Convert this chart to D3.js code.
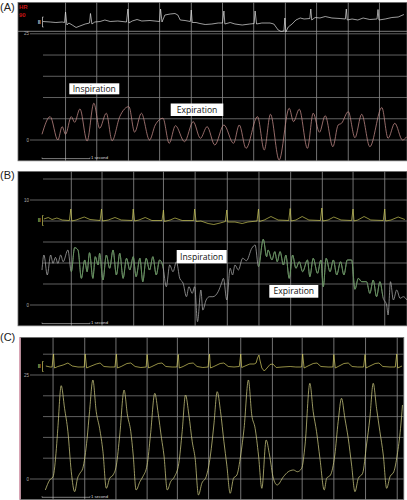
<!DOCTYPE html>
<html>
<head>
<meta charset="utf-8">
<script src="https://cdn.jsdelivr.net/npm/d3@7"></script>
<style>
  body { margin: 0; background: #fff; }
  svg { display: block; }
</style>
</head>
<body>
<svg id="fig" width="407" height="500"></svg>
<script>
// time in seconds, pressure in mmHg, ecg in mV
var panelNames = ['(A)', '(B)', '(C)'];
var phaseNames = ['Inspiration', 'Expiration'];
var heartRate = ['HR', '90'];
var leadName = 'II';
var scaleLabel = '1 second';

var levelsA = [0, 5, 10, 15, 20, 25];
var labelsA = [0, 25];
var levelsB = [0, 2, 4, 6, 8, 10, 12];
var labelsB = [0, 10];
var levelsC = [0, 5, 10, 15, 20, 25, 30];
var labelsC = [0, 25];

var gridTimesA = [0.48, 1.13, 1.79, 2.44, 3.1, 3.75, 4.4, 5.06, 5.71, 6.37, 7.02];
var gridTimesB = [0.6, 1.24, 1.9, 2.52, 3.18, 3.85, 4.51, 5.17, 5.83, 6.47, 7.13];
var gridTimesC = [0.22, 0.88, 1.53, 2.18, 2.81, 3.46, 4.13, 4.79, 5.41, 6.07, 6.73, 7.39];

var pressureA = [[0,1.34],[0.17,5.5],[0.33,0],[0.42,3.14],[0.49,1.34],[0.61,5.5],[0.68,4.17],[0.79,7.31],
  [0.94,-0.24],[1.08,8.66],[1.2,2.76],[1.34,6.3],[1.46,-0.17],[1.62,5.5],[1.81,7.85],[1.93,1.84],[2.07,6.3],
  [2.24,0],[2.36,3.54],[2.52,5.12],[2.65,-0.78],[2.78,3.37],[2.97,-0.4],[3.15,4.32],[3.3,0.4],[3.44,3.14],
  [3.6,-1.18],[3.79,3.54],[3.99,-0.78],[4.11,3.54],[4.25,-1.96],[4.49,5.5],[4.63,-2.36],[4.76,6.06],
  [4.94,-4.72],[5.15,7.48],[5.24,4.32],[5.36,7.24],[5.53,-1.96],[5.65,6.3],[5.78,1.82],[5.9,5.73],
  [6.06,-1.58],[6.17,3.54],[6.24,3.94],[6.38,6.67],[6.52,0.54],[6.66,6.06],[6.83,-1.58],[7.08,7.64],
  [7.21,0.4],[7.35,3.94],[7.51,0],[7.6,0.78]];

var ecgA = [[0.02,0.05],[0.17,0],[0.29,-0.05],[0.42,0],[0.47,-0.05],[0.49,1.0],[0.52,-0.3],[0.56,-0.1],
  [0.63,-0.3],[0.71,-0.55],[0.79,-0.4],[0.9,-0.2],[0.99,-0.1],[1.01,0.85],[1.04,-0.2],[1.1,0],[1.21,0.05],
  [1.31,0.2],[1.42,0.05],[1.58,0.1],[1.76,0],[1.79,1.3],[1.81,-0.1],[1.88,0.1],[1.98,0.25],[2.08,0.1],
  [2.25,0.15],[2.45,0.05],[2.47,1.3],[2.5,0],[2.56,0.7],[2.67,0.8],[2.77,0.85],[2.83,0.7],[2.88,0.2],
  [2.98,0.15],[3.09,0.05],[3.11,1.2],[3.13,-0.05],[3.21,-0.05],[3.29,-0.15],[3.4,-0.25],[3.54,-0.2],
  [3.67,-0.1],[3.76,-0.1],[3.79,1.1],[3.81,-0.2],[3.92,-0.05],[4.02,-0.2],[4.17,-0.3],[4.33,-0.2],
  [4.42,-0.15],[4.44,1.1],[4.47,-0.2],[4.58,-0.1],[4.75,-0.1],[4.83,-0.2],[4.92,-0.8],[4.98,-0.95],
  [5.04,-0.9],[5.06,0.4],[5.08,-1.0],[5.13,-0.5],[5.21,-0.2],[5.29,0.2],[5.38,0.4],[5.46,0.3],[5.58,0.35],
  [5.6,1.3],[5.62,0.2],[5.69,0.45],[5.79,0.4],[5.9,0.55],[6.04,0.4],[6.21,0.35],[6.32,0.3],[6.34,1.3],
  [6.36,0.2],[6.46,0.3],[6.58,0.2],[6.69,0.4],[6.83,0.25],[6.98,0.3],[7.0,1.25],[7.02,0.2],[7.15,0.3],
  [7.29,0.45],[7.42,0.5],[7.54,0.75]];

var pressureB = [[0,3.33],[0.04,4.76],[0.11,2.86],[0.18,4.76],[0.23,3.97],[0.28,4.54],[0.33,3.97],[0.39,4.76],
  [0.44,4.12],[0.54,5.24],[0.61,3.17],[0.68,5.46],[0.75,5.24],[0.82,2.54],[0.89,4.29],[0.94,3.17],[0.99,4.98],
  [1.06,2.54],[1.11,4.6],[1.17,3.81],[1.2,4.92],[1.27,2.38],[1.34,4.76],[1.41,3.5],[1.48,5.24],[1.55,2.86],
  [1.62,4.92],[1.69,2.54],[1.76,4.45],[1.83,3.33],[1.9,4.6],[1.96,2.7],[2.04,4.45],[2.1,2.22],[2.17,4.45],
  [2.24,3.33],[2.31,4.6],[2.38,2.86],[2.45,4.29],[2.52,3.65],[2.59,1.74],[2.66,3.81],[2.73,3.17],[2.8,4.12],
  [2.87,2.54],[2.94,2.07],[3.01,0.79],[3.06,1.74],[3.13,1.11],[3.18,1.74],[3.24,-1.59],[3.31,1.43],
  [3.35,-0.48],[3.42,0.48],[3.49,0.79],[3.56,0.79],[3.67,1.27],[3.74,2.07],[3.78,2.54],[3.85,0.48],
  [3.92,3.5],[3.97,2.86],[4.02,3.81],[4.09,3.33],[4.18,4.45],[4.26,4.22],[4.37,5.4],[4.44,5.71],[4.51,3.65],
  [4.61,6.26],[4.68,4.6],[4.71,5.24],[4.79,4.29],[4.85,5.08],[4.9,4.12],[4.96,5.08],[5.03,3.81],[5.08,4.76],
  [5.15,2.54],[5.22,4.76],[5.29,3.5],[5.36,4.12],[5.43,3.17],[5.53,4.29],[5.58,2.7],[5.65,4.45],[5.74,3.02],
  [5.81,4.29],[5.86,1.74],[5.92,4.45],[6.0,3.17],[6.07,4.29],[6.14,2.86],[6.22,4.12],[6.29,2.86],[6.36,4.29],
  [6.45,4.29],[6.52,1.5],[6.59,2.54],[6.66,2.22],[6.76,2.22],[6.83,1.11],[6.9,2.38],[6.97,0.79],[7.04,2.22],
  [7.11,0.64],[7.18,0],[7.21,-0.95],[7.26,2.22],[7.32,0.48],[7.39,1.43],[7.46,0.64],[7.53,0.79],[7.6,0.48]];

var greenSpansB = [[0.6, 2.52], [4.51, 7.1]];

var ecgB = [[0.04,0.15],[0.13,0.3],[0.21,0.1],[0.31,0.25],[0.42,0.05],[0.57,0],[0.6,1.15],[0.62,-0.05],
  [0.71,0.05],[0.88,0.35],[1.0,0.1],[1.21,0],[1.24,1.15],[1.26,-0.05],[1.38,0.05],[1.52,0.3],[1.65,0.05],
  [1.88,0],[1.9,1.15],[1.93,-0.05],[2.02,0.05],[2.15,0.3],[2.29,0],[2.5,0],[2.53,1.05],[2.55,-0.1],
  [2.67,0.05],[2.77,0.25],[2.92,0],[3.16,0],[3.18,1.15],[3.21,-0.1],[3.31,-0.05],[3.46,-0.3],[3.58,-0.4],
  [3.71,-0.25],[3.82,-0.1],[3.85,1.05],[3.87,-0.15],[4.02,-0.15],[4.17,-0.3],[4.29,-0.15],[4.48,-0.05],
  [4.51,1.15],[4.53,-0.1],[4.63,0.05],[4.77,0.4],[4.92,0.05],[5.14,0],[5.17,1.2],[5.19,-0.05],[5.29,0.05],
  [5.42,0.4],[5.56,0.05],[5.8,0],[5.83,1.25],[5.85,-0.05],[5.96,0.05],[6.08,0.35],[6.23,0.05],[6.45,0],
  [6.48,1.15],[6.5,-0.05],[6.58,0.05],[6.71,0.4],[6.85,0.05],[7.11,0],[7.14,1.15],[7.16,-0.05],[7.27,0.05],
  [7.42,0.35],[7.56,0.1]];

var pressureC = [[0.07,-2.64],[0.16,-0.24],[0.23,0.55],[0.3,7.38],[0.33,12.19],[0.4,22.43],[0.47,17.0],
  [0.54,11.37],[0.61,1.75],[0.68,-3.05],[0.74,0.17],[0.79,1.37],[0.85,2.57],[0.94,9.78],[0.99,16.18],
  [1.06,23.8],[1.13,16.18],[1.2,12.19],[1.27,6.56],[1.34,-2.24],[1.41,0.17],[1.48,0.96],[1.55,3.37],
  [1.62,10.58],[1.71,21.39],[1.78,15.38],[1.85,11.37],[1.9,5.77],[1.96,-2.64],[2.04,-0.65],[2.1,0.55],
  [2.19,3.37],[2.26,10.58],[2.35,20.6],[2.42,15.79],[2.49,9.78],[2.54,5.77],[2.61,-2.64],[2.68,-0.65],
  [2.76,0.55],[2.85,3.77],[2.92,11.37],[2.99,20.19],[3.06,15.38],[3.13,8.97],[3.19,4.98],[3.26,-3.85],
  [3.33,-1.03],[3.42,0.55],[3.51,5.77],[3.58,12.98],[3.65,20.99],[3.72,16.18],[3.79,8.97],[3.85,3.37],
  [3.92,-3.44],[3.99,0.17],[4.06,0.96],[4.14,5.77],[4.21,12.19],[4.3,23.8],[4.37,15.38],[4.44,12.19],
  [4.51,5.77],[4.58,-2.24],[4.67,9.38],[4.74,5.77],[4.82,0.17],[4.9,-1.44],[5.03,0.55],[5.13,1.75],
  [5.24,2.16],[5.32,1.75],[5.41,2.57],[5.48,8.17],[5.58,23.0],[5.65,16.18],[5.72,11.37],[5.79,4.98],
  [5.88,-2.64],[5.93,0.17],[6.01,0.96],[6.1,5.77],[6.17,13.77],[6.24,19.4],[6.31,14.59],[6.38,9.78],
  [6.45,3.37],[6.52,-3.05],[6.59,0.17],[6.68,1.37],[6.76,8.17],[6.83,14.59],[6.9,23.0],[6.97,17.0],
  [7.04,11.37],[7.11,5.77],[7.18,-2.24],[7.25,0.55],[7.33,1.75],[7.4,5.77],[7.47,12.19],[7.51,17.79]];

var ecgC = [[0.08,0.05],[0.17,-0.05],[0.21,-0.05],[0.24,1.25],[0.26,-0.15],[0.33,0],[0.44,0.15],[0.54,0.35],
  [0.63,0.05],[0.75,-0.05],[0.88,-0.05],[0.9,1.25],[0.93,-0.15],[1.0,0],[1.13,0.25],[1.21,0.35],[1.29,0],
  [1.42,-0.05],[1.52,-0.05],[1.55,1.25],[1.57,-0.15],[1.65,0],[1.77,0.3],[1.85,0.35],[1.94,0],[2.06,-0.1],
  [2.17,-0.05],[2.19,1.2],[2.22,-0.15],[2.29,0],[2.42,0.3],[2.5,0.35],[2.58,0],[2.71,-0.05],[2.81,-0.05],
  [2.84,1.2],[2.86,-0.15],[2.94,0],[3.06,0.3],[3.15,0.35],[3.23,0],[3.35,-0.1],[3.46,-0.05],[3.49,1.25],
  [3.51,-0.15],[3.58,0],[3.71,0.3],[3.79,0.35],[3.88,0],[4.0,-0.05],[4.11,0],[4.14,1.25],[4.16,-0.1],
  [4.23,0.05],[4.33,0.25],[4.42,0.25],[4.46,0.35],[4.49,0.85],[4.52,1.15],[4.54,0.65],[4.58,-0.15],
  [4.63,-0.45],[4.67,-0.25],[4.75,0.2],[4.81,0.25],[4.88,-0.1],[5.0,-0.05],[5.17,0],[5.29,-0.05],
  [5.41,-0.05],[5.43,1.25],[5.46,-0.15],[5.52,0],[5.65,0.3],[5.73,0.35],[5.81,0],[5.96,-0.05],[6.06,-0.05],
  [6.08,1.2],[6.11,-0.15],[6.17,0],[6.29,0.3],[6.38,0.35],[6.46,0],[6.58,-0.05],[6.7,-0.05],[6.73,1.2],
  [6.75,-0.15],[6.81,0],[6.94,0.3],[7.02,0.35],[7.1,0],[7.25,-0.05],[7.36,-0.05],[7.39,1.25],[7.41,-0.15],
  [7.5,0.05]];

var svg = d3.select('#fig').style('font-family', 'Liberation Sans, Arial, sans-serif');
var x = d3.scaleLinear().domain([0, 7.6]).range([42, 406.8]);

function drawPanel(cfg) {
  var g = svg.append('g');
  var y = d3.scaleLinear().domain(cfg.yDomain).range(cfg.yRange);
  var ye = d3.scaleLinear().domain([0, 1]).range([cfg.ecgBase, cfg.ecgBase - 10]);

  g.append('text')
    .attr('x', 0)
    .attr('y', cfg.nameY)
    .attr('font-size', 11)
    .attr('fill', '#222')
    .text(cfg.name);

  g.append('rect')
    .attr('x', cfg.left)
    .attr('y', cfg.top)
    .attr('width', cfg.right - cfg.left)
    .attr('height', cfg.bottom - cfg.top)
    .attr('fill', '#000')
    .attr('stroke', '#6a6a6a')
    .attr('stroke-width', 0.8);

  if (cfg.edge) {
    g.append('rect')
      .attr('x', cfg.left - 1)
      .attr('y', cfg.top)
      .attr('width', 1.8)
      .attr('height', cfg.bottom - cfg.top)
      .attr('fill', cfg.edge);
  }

  // vertical grid
  g.append('g')
    .attr('transform', `translate(0,${cfg.top})`)
    .call(d3.axisBottom(x).tickValues(cfg.grid).tickFormat('')
      .tickSizeInner(cfg.bottom - cfg.top).tickSizeOuter(0))
    .call(a => a.select('.domain').remove())
    .selectAll('line')
    .attr('stroke', '#a4a4a4')
    .attr('stroke-width', 0.7);

  // horizontal grid
  g.selectAll('line.h')
    .data(cfg.levels)
    .enter()
    .append('line')
    .attr('class', 'h')
    .attr('x1', d => (cfg.labels.indexOf(d) >= 0 ? 30 : 43))
    .attr('x2', cfg.right)
    .attr('y1', d => y(d))
    .attr('y2', d => y(d))
    .attr('stroke', '#8a8a8a')
    .attr('stroke-width', 0.7);

  g.selectAll('text.lv')
    .data(cfg.labels)
    .enter()
    .append('text')
    .attr('class', 'lv')
    .attr('x', 29)
    .attr('y', d => y(d) + 1.5)
    .attr('text-anchor', 'end')
    .attr('font-size', 4.5)
    .attr('fill', '#aaa')
    .text(d => d);

  if (cfg.separator) {
    g.append('line')
      .attr('x1', cfg.left).attr('x2', cfg.right)
      .attr('y1', cfg.separator).attr('y2', cfg.separator)
      .attr('stroke', '#9a9a9a').attr('stroke-width', 0.8);
  }

  // lead label and bracket
  g.append('text')
    .attr('x', 40.5)
    .attr('y', cfg.ecgBase + 1.5)
    .attr('text-anchor', 'end')
    .attr('font-size', 4.5)
    .attr('font-weight', 'bold')
    .attr('fill', cfg.ecgColor)
    .text(leadName);
  g.append('path')
    .attr('d', `M${43.5},${cfg.ecgBase - 5}h-1v10h1`)
    .attr('fill', 'none')
    .attr('stroke', cfg.ecgColor)
    .attr('stroke-width', 0.7);

  var ecgLine = d3.line().x(d => x(d[0])).y(d => ye(d[1]));
  g.append('path')
    .attr('d', ecgLine(cfg.ecg))
    .attr('fill', 'none')
    .attr('stroke', cfg.ecgColor)
    .attr('stroke-width', 0.7);

  var waveLine = d3.line().x(d => x(d[0])).y(d => y(d[1])).curve(d3.curveMonotoneX);
  g.append('path')
    .attr('d', waveLine(cfg.wave))
    .attr('fill', 'none')
    .attr('stroke', cfg.waveColor)
    .attr('stroke-width', 0.75);

  if (cfg.spans) {
    var clip = svg.append('clipPath').attr('id', 'green-spans');
    clip.selectAll('rect')
      .data(cfg.spans)
      .enter()
      .append('rect')
      .attr('x', d => x(d[0]))
      .attr('width', d => x(d[1]) - x(d[0]))
      .attr('y', cfg.top)
      .attr('height', cfg.bottom - cfg.top);
    g.append('path')
      .attr('d', waveLine(cfg.wave))
      .attr('fill', 'none')
      .attr('stroke', cfg.spanColor)
      .attr('stroke-width', 0.8)
      .attr('clip-path', 'url(#green-spans)');
  }

  // 1 second bar
  var by = cfg.bottom - 2.2;
  g.append('path')
    .attr('d', `M${x(0)},${by - 1}V${by}H${x(1)}V${by - 1}`)
    .attr('fill', 'none')
    .attr('stroke', '#d0d0d0')
    .attr('stroke-width', 0.6);
  g.append('text')
    .attr('x', x(1) + 1)
    .attr('y', by + 0.5)
    .attr('font-size', 4.2)
    .attr('fill', '#ddd')
    .text(scaleLabel);

  (cfg.boxes || []).forEach(function(b) {
    g.append('rect')
      .attr('x', b.x).attr('y', b.y)
      .attr('width', b.w).attr('height', b.h)
      .attr('fill', '#fff');
    g.append('text')
      .attr('x', b.x + b.w / 2)
      .attr('y', b.y + b.h / 2 + 3)
      .attr('text-anchor', 'middle')
      .attr('font-family', 'Open Sans, Noto Sans, sans-serif')
      .attr('font-size', 8.6)
      .attr('fill', '#111')
      .text(b.text);
  });

  return g;
}

var panelA = drawPanel({
  name: panelNames[0], nameY: 10.5,
  left: 18, right: 407, top: 2.5, bottom: 160.8,
  yDomain: [0, 25], yRange: [140, 33.8],
  levels: levelsA, labels: labelsA, grid: gridTimesA,
  separator: 31.3,
  ecg: ecgA, ecgBase: 22, ecgColor: '#e0e0e0',
  wave: pressureA, waveColor: '#c48c8a',
  boxes: [
    {text: phaseNames[0], x: 69.3, y: 83.3, w: 50, h: 11},
    {text: phaseNames[1], x: 170.7, y: 103.5, w: 52.6, h: 12.5},
  ],
});

panelA.append('text')
  .attr('x', 19).attr('y', 9.3)
  .attr('font-size', 6).attr('font-weight', 'bold')
  .attr('fill', '#c41414')
  .text(heartRate[0]);
panelA.append('text')
  .attr('x', 19).attr('y', 16.8)
  .attr('font-size', 6).attr('font-weight', 'bold')
  .attr('fill', '#c41414')
  .text(heartRate[1]);

drawPanel({
  name: panelNames[1], nameY: 178.5,
  left: 18, right: 407, top: 171.5, bottom: 325.8,
  yDomain: [0, 10], yRange: [305, 200],
  levels: levelsB, labels: labelsB, grid: gridTimesB,
  ecg: ecgB, ecgBase: 220.5, ecgColor: '#c9c556',
  wave: pressureB, waveColor: '#ababab',
  spans: greenSpansB, spanColor: '#58944f',
  boxes: [
    {text: phaseNames[0], x: 176.7, y: 250, w: 50, h: 13.3},
    {text: phaseNames[1], x: 269.3, y: 285, w: 49, h: 12.7},
  ],
});

drawPanel({
  name: panelNames[2], nameY: 340.5,
  left: 20, right: 403.8, top: 337.5, bottom: 499.5,
  edge: '#d8a4b4',
  yDomain: [0, 25], yRange: [479, 375],
  levels: levelsC, labels: labelsC, grid: gridTimesC,
  ecg: ecgC, ecgBase: 366.5, ecgColor: '#d2cc62',
  wave: pressureC, waveColor: '#cbc880',
});
</script>
</body>
</html>
